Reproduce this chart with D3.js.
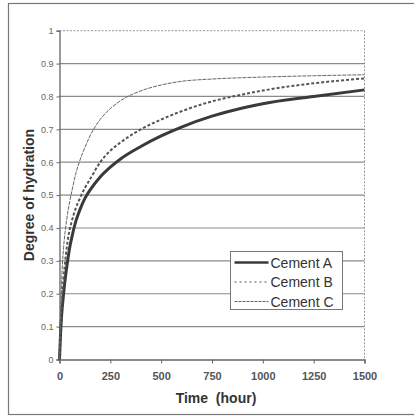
<!DOCTYPE html>
<html>
<head>
<meta charset="utf-8">
<script src="https://cdn.jsdelivr.net/npm/d3@7"></script>
<style>
  body { margin: 0; background: #fff; }
  svg { display: block; font-family: Arial, "Liberation Sans", sans-serif; }
</style>
</head>
<body>
<div id="chart"></div>
<script>
// hours
const times = [0, 5, 10, 20, 30, 40, 50, 60, 80, 100, 125, 150, 200, 250, 300, 400, 500, 600, 750, 900, 1000, 1250, 1500];

const cementA = [0, 0.075, 0.13, 0.2, 0.255, 0.3, 0.34, 0.37, 0.42, 0.455, 0.49, 0.515, 0.555, 0.585, 0.61, 0.648, 0.68, 0.707, 0.74, 0.765, 0.778, 0.80, 0.82];
const cementB = [0, 0.09, 0.155, 0.245, 0.31, 0.36, 0.395, 0.42, 0.46, 0.49, 0.522, 0.548, 0.6, 0.635, 0.66, 0.70, 0.73, 0.755, 0.785, 0.806, 0.818, 0.84, 0.855];
const cementC = [0, 0.13, 0.23, 0.34, 0.40, 0.445, 0.48, 0.51, 0.565, 0.605, 0.645, 0.68, 0.73, 0.763, 0.787, 0.817, 0.835, 0.846, 0.853, 0.857, 0.859, 0.863, 0.866];

const seriesNames = ["Cement A", "Cement B", "Cement C"];
const xTicks = [0, 250, 500, 750, 1000, 1250, 1500];
const yTicks = [0, 0.1, 0.2, 0.3, 0.4, 0.5, 0.6, 0.7, 0.8, 0.9, 1];

const width = 414, height = 418;
const svg = d3.select("#chart").append("svg")
  .attr("width", width)
  .attr("height", height);

// outer frame (right edge runs off the picture)
svg.append("rect")
  .attr("x", 8.5).attr("y", 3.5)
  .attr("width", 420).attr("height", 411)
  .attr("fill", "#fff")
  .attr("stroke", "#777")
  .attr("stroke-width", 1.2);

const x = d3.scaleLinear().domain([0, 1500]).range([59.5, 364.5]);
const y = d3.scaleLinear().domain([0, 1]).range([359.5, 30.7]);

// gridlines
svg.append("g")
  .selectAll("line")
  .data(yTicks.filter(d => d > 0 && d < 1))
  .enter()
  .append("line")
  .attr("x1", x(0)).attr("x2", x(1500))
  .attr("y1", d => y(d)).attr("y2", d => y(d))
  .attr("stroke", "#8a8a8a")
  .attr("stroke-width", 1.2);

// top & right plot border, dotted
svg.append("line")
  .attr("x1", x(0)).attr("x2", x(1500))
  .attr("y1", y(1)).attr("y2", y(1))
  .attr("stroke", "#999").attr("stroke-dasharray", "2,1.5");
svg.append("line")
  .attr("x1", x(1500)).attr("x2", x(1500))
  .attr("y1", y(1)).attr("y2", y(0))
  .attr("stroke", "#999").attr("stroke-dasharray", "2,1.5");

// axes
const xAxis = svg.append("g")
  .attr("transform", `translate(0, ${y(0)})`)
  .call(d3.axisBottom(x).tickValues(xTicks).tickSize(4).tickPadding(9).tickFormat(d3.format("d")));
xAxis.select(".domain").attr("stroke", "#666").attr("stroke-width", 1.3);
xAxis.selectAll(".tick line").attr("stroke", "#666");
xAxis.selectAll("text")
  .attr("fill", "#555")
  .style("font-size", "11px")
  .style("font-weight", "bold");

const yAxis = svg.append("g")
  .attr("transform", `translate(${x(0)}, 0)`)
  .call(d3.axisLeft(y).tickValues(yTicks).tickSize(3).tickPadding(3)
    .tickFormat(d => d === 0 ? "0" : d === 1 ? "1" : d3.format(".1f")(d)));
yAxis.select(".domain").attr("stroke", "#666").attr("stroke-width", 1.3);
yAxis.selectAll(".tick line").attr("stroke", "#666");
yAxis.selectAll("text")
  .attr("fill", "#666")
  .style("font-size", "9px");

// lines
const line = d3.line()
  .x((d, i) => x(times[i]))
  .y(d => y(d))
  .curve(d3.curveMonotoneX);

const styles = [
  { stroke: "#3a3a3a", width: 3, dash: null },
  { stroke: "#555", width: 2, dash: "3,2" },
  { stroke: "#666", width: 1, dash: "4,1" }
];
[cementA, cementB, cementC].forEach((s, i) => {
  svg.append("path")
    .datum(s)
    .attr("fill", "none")
    .attr("stroke", styles[i].stroke)
    .attr("stroke-width", styles[i].width)
    .attr("stroke-dasharray", styles[i].dash)
    .attr("d", line);
});

// axis titles
svg.append("text")
  .attr("transform", "rotate(-90)")
  .attr("x", -195)
  .attr("y", 34)
  .attr("text-anchor", "middle")
  .style("font-size", "14px")
  .style("font-weight", "bold")
  .attr("fill", "#333")
  .text("Degree of hydration");

svg.append("text")
  .attr("x", 216)
  .attr("y", 403)
  .attr("text-anchor", "middle")
  .style("font-size", "14px")
  .style("font-weight", "bold")
  .attr("fill", "#333")
  .style("white-space", "pre")
  .text("Time  (hour)");

// legend
const legend = svg.append("g")
  .attr("transform", "translate(230.5, 251.5)");
legend.append("rect")
  .attr("width", 112).attr("height", 58)
  .attr("fill", "#fff")
  .attr("stroke", "#777");
const items = legend.selectAll(".legend-item")
  .data(seriesNames)
  .enter()
  .append("g")
  .attr("class", "legend-item")
  .attr("transform", (d, i) => `translate(0, ${11 + i * 19.5})`);
items.append("line")
  .attr("x1", 4).attr("x2", 38)
  .attr("stroke", (d, i) => styles[i].stroke)
  .attr("stroke-width", (d, i) => i === 0 ? 2.5 : 1)
  .attr("stroke-dasharray", (d, i) => i === 1 ? "2,3" : i === 2 ? "3,1" : null);
items.append("text")
  .attr("x", 40)
  .attr("y", 5)
  .style("font-size", "14px")
  .attr("fill", "#333")
  .text(d => d);
</script>
</body>
</html>
